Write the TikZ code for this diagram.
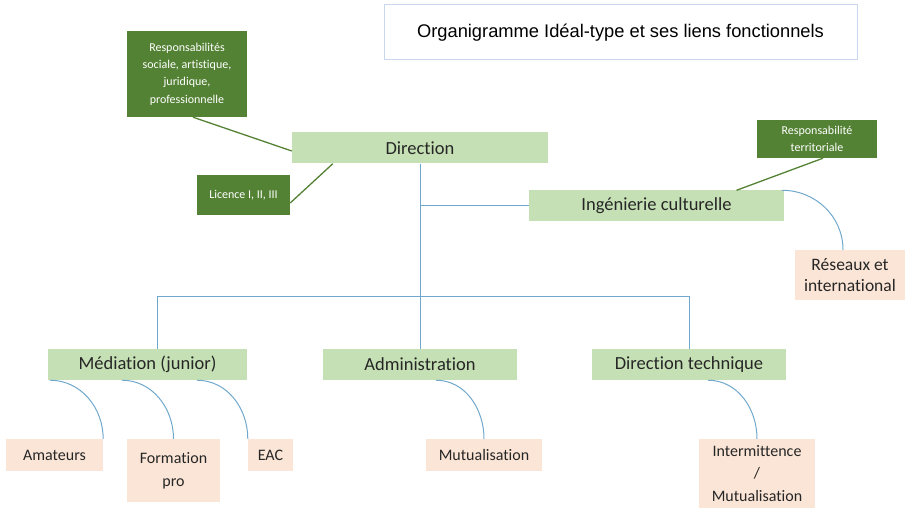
\documentclass[tikz,border=0pt]{standalone}
\usepackage{fontspec}
\setmainfont{Carlito}[Ligatures=NoCommon]
\newfontfamily\titlefont{Liberation Sans}
\definecolor{lightgreen}{HTML}{C5E0B4}
\definecolor{darkgreen}{HTML}{548235}
\definecolor{peach}{HTML}{FBE5D6}
\definecolor{lineblue}{HTML}{6FA8CC}
\definecolor{frameblue}{HTML}{C9D7EE}
\begin{document}
\begin{tikzpicture}[x=1pt,y=1pt,
    main node/.style={fill=lightgreen,text=black!85,inner sep=0pt,minimum height=31pt,font=\fontsize{18.5}{22}\selectfont},
    sub node/.style={fill=peach,text=black!85,inner sep=0pt,align=center,minimum height=32pt,font=\fontsize{16}{23}\selectfont},
    note node/.style={fill=darkgreen,text=white,inner sep=0pt,align=center,font=\fontsize{12}{17.4}\selectfont},
    tree line/.style={draw=lineblue,line width=1pt},
    link line/.style={draw=darkgreen,line width=1.3pt}]
    \useasboundingbox (0,0) rectangle (907,-510);

    \node[draw=frameblue,line width=1pt,minimum width=473pt,minimum height=55pt,font=\titlefont\fontsize{18.3}{22}\selectfont] at (620.5,-32.5) (title) {Organigramme Idéal-type et ses liens fonctionnels};

    \node[main node,minimum width=256pt] at (420,-148) (dir) {Direction};
    \node[main node,minimum width=255pt] at (656.5,-206) (ing) {Ingénierie culturelle};
    \node[main node,minimum width=199pt] at (147.5,-364.5) (med) {Médiation (junior)};
    \node[main node,minimum width=194pt] at (420,-364.5) (adm) {Administration};
    \node[main node,minimum width=194pt] at (689,-364.5) (tech) {Direction technique};

    \node[note node,minimum width=120pt,minimum height=86pt] at (187,-74) (resp) {Responsabilités\\sociale, artistique,\\juridique,\\professionnelle};
    \node[note node,minimum width=93pt,minimum height=40pt] at (243.5,-195) (lic) {Licence I, II, III};
    \node[note node,minimum width=120pt,minimum height=38pt] at (817,-139) (terr) {Responsabilité\\territoriale};

    \node[sub node,minimum width=110pt,minimum height=50pt,font=\fontsize{17.5}{21}\selectfont] at (850,-275) (res) {Réseaux et\\international};
    \node[sub node,minimum width=97pt] at (54.5,-455) (ama) {Amateurs};
    \node[sub node,minimum width=93pt,minimum height=63pt] at (173.5,-470.5) (form) {Formation\\pro};
    \node[sub node,minimum width=45pt] at (270.5,-455) (eac) {EAC};
    \node[sub node,minimum width=116pt] at (484,-455) (mut) {Mutualisation};
    \node[sub node,minimum width=116pt,minimum height=69pt,font=\fontsize{16}{22.5}\selectfont] at (757,-473.5) (inter) {Intermittence\\/\\Mutualisation};

    \coordinate (bar) at (0,-297);

    % tree
    \draw[tree line] (dir.south) -- (adm.north);
    \draw[tree line] (dir.south |- ing.west) -- (ing.west);
    \draw[tree line] ([xshift=9.5pt]med.north) |- (tech.north |- bar) -- (tech.north);

    % sub links
    \path[tree line]
        ([xshift=2pt]med.south west) edge[out=0,in=90] (ama.north east)
        ([xshift=74pt]med.south west) edge[out=0,in=90] (form.north)
        ([xshift=149pt]med.south west) edge[out=0,in=90] (eac.north west)
        ([xshift=113pt]adm.south west) edge[out=0,in=90] (mut.north)
        ([xshift=116pt]tech.south west) edge[out=0,in=90] (inter.north)
        ([xshift=-2pt]ing.north east) edge[out=0,in=90] ([xshift=-7pt]res.north)
        ;

    % notes
    \path[link line]
        ([xshift=6pt]resp.south) edge ([yshift=-3pt]dir.west)
        ([yshift=-8pt]lic.east) edge ([xshift=41pt]dir.south west)
        ([xshift=6pt]terr.south) edge ([xshift=80pt]ing.north)
        ;
\end{tikzpicture}
\end{document}
